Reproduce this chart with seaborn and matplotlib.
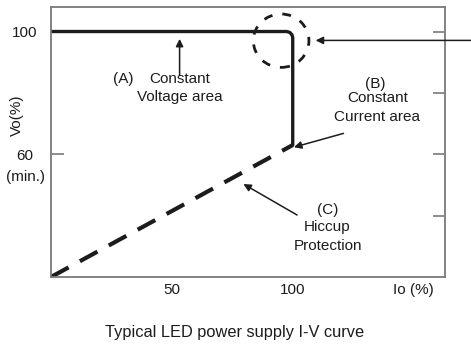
import matplotlib
matplotlib.use("Agg")
import matplotlib.pyplot as plt
from matplotlib.patches import Ellipse
import seaborn as sns

# veri: I-V egrisi (Io %, Vo %)
io_cv = [0, 97.5, 98.8, 99.7, 100, 100]
vo_cv = [100, 100, 99.7, 98.9, 98, 63]
io_hiccup = [0, 100]
vo_hiccup = [20, 63]

left_ticks = [60, 100]
left_labels = ["60", "100"]
right_ticks = [40, 60, 80, 100]
x_ticks = [50, 100, 150]
x_labels = ["50", "100", "Io (%)"]

sns.set_style("white")
plt.rcParams["font.family"] = ["Liberation Sans", "DejaVu Sans"]

ink = "#1c1c1c"
grey = "#7a7a7a"

fig = plt.figure(figsize=(4.71, 3.61), dpi=100)
ax = fig.add_axes([0.1083, 0.2327, 0.8365, 0.748])

sns.lineplot(x=io_cv, y=vo_cv, ax=ax, color=ink, lw=2.4, sort=False, estimator=None)
sns.lineplot(x=io_hiccup, y=vo_hiccup, ax=ax, color=ink, lw=3.0, sort=False,
             estimator=None, dashes=False)
ax.lines[-1].set_dashes((4.8, 3.1))
ax.lines[-1].set_solid_capstyle("butt")

ax.set_xlim(0, 163)
ax.set_ylim(20, 108)

for s in ax.spines.values():
    s.set_color(grey)
    s.set_linewidth(1.3)

ax.set_xticks(x_ticks, x_labels)
ax.set_yticks(left_ticks, left_labels)
ax.tick_params(axis="x", direction="in", length=9, width=1.2, color=grey,
               pad=4, labelsize=11, labelcolor=ink)
ax.tick_params(axis="y", direction="in", length=9, width=1.2, color=grey,
               pad=19, labelsize=11, labelcolor=ink)
for lab in ax.get_yticklabels():
    lab.set_ha("center")

ax2 = ax.twinx()
ax2.set_ylim(20, 108)
ax2.set_yticks(right_ticks)
ax2.tick_params(axis="y", direction="in", length=9, width=1.2, color=grey,
                labelright=False)
for s in ax2.spines.values():
    s.set_visible(False)

ax.set_ylabel("Vo(%)", fontsize=11, color=ink)
ax.yaxis.set_label_coords(-0.068, 0.6)
ax.text(-0.0635, 0.37, "(min.)", transform=ax.transAxes, ha="center", va="center",
        fontsize=11, color=ink)

# kesikli daire (kose)
ax.add_patch(Ellipse((95.2, 97), 23, 17.4, fill=False, ls=(0, (3.2, 3.6)),
                     lw=2.0, ec=ink))

arrow = dict(arrowstyle="-|>", color=ink, lw=1.1, mutation_scale=11,
             shrinkA=0, shrinkB=0)
ax.annotate("", xy=(109.5, 97.1), xytext=(175, 97.1), arrowprops=arrow,
            annotation_clip=False)
ax.annotate("", xy=(53.2, 97.6), xytext=(53.2, 85.7), arrowprops=arrow)
ax.annotate("", xy=(100.5, 62.3), xytext=(121, 66.8), arrowprops=arrow)
ax.annotate("", xy=(79.6, 50.3), xytext=(101.8, 40.2), arrowprops=arrow)

fs = 11
ax.text(29.8, 84.4, "(A)", ha="center", va="center", fontsize=fs, color=ink)
ax.text(53.2, 84.4, "Constant", ha="center", va="center", fontsize=fs, color=ink)
ax.text(53.2, 78.6, "Voltage area", ha="center", va="center", fontsize=fs, color=ink)
ax.text(134, 83, "(B)", ha="center", va="center", fontsize=fs, color=ink)
ax.text(135, 78.2, "Constant", ha="center", va="center", fontsize=fs, color=ink)
ax.text(135, 72.3, "Current area", ha="center", va="center", fontsize=fs, color=ink)
ax.text(114.4, 41.7, "(C)", ha="center", va="center", fontsize=fs, color=ink)
ax.text(114.4, 36.2, "Hiccup", ha="center", va="center", fontsize=fs, color=ink)
ax.text(114.4, 30.2, "Protection", ha="center", va="center", fontsize=fs, color=ink)

fig.text(0.499, 1 - 333 / 361, "Typical LED power supply I-V curve",
         ha="center", va="center", fontsize=11.8, color=ink,
         family=["Liberation Sans Narrow", "Liberation Sans", "DejaVu Sans"])

fig.savefig("out.png", dpi=100)
